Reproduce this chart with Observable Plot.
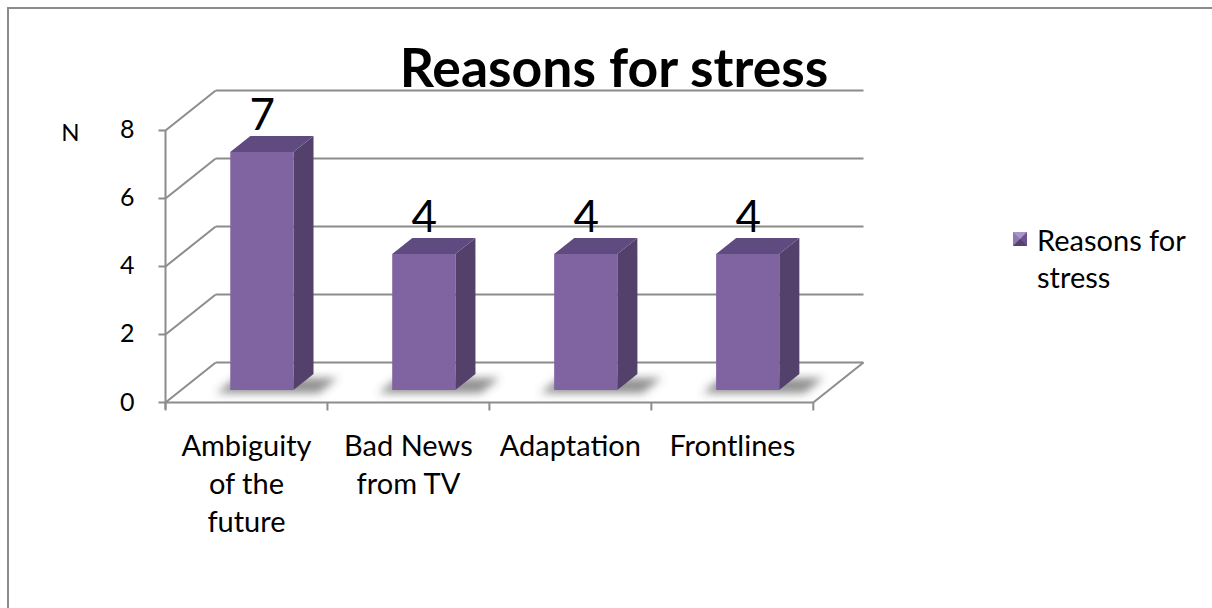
<!DOCTYPE html>
<html><head><meta charset="utf-8">
<script src="https://cdn.jsdelivr.net/npm/d3@7"></script>
<script src="https://cdn.jsdelivr.net/npm/@observablehq/plot@0.6"></script>
<style>
body{margin:0;background:#fff;font-family:Lato,"Open Sans",sans-serif;}
#page{position:relative;width:1212px;height:608px;overflow:hidden;background:#fff}
#frame{position:absolute;left:7px;top:7px;width:1300px;height:700px;border:2.5px solid #8c8c8c;box-sizing:border-box}
#title{position:absolute;left:0;width:1228px;top:36px;text-align:center;font-weight:bold;font-size:53.5px;line-height:60px;color:#000}
#chart{position:absolute;left:0;top:0}
#legend{position:absolute;left:1013px;top:221px;font-size:29px;line-height:37px;color:#000}
#legend .sw{position:absolute;left:0;top:11px;width:0;height:0;border-style:solid;border-width:7.5px;border-color:#a995c6 #6a528e #54416e #9079b2}
#legend .tx{position:absolute;left:24px;top:0;width:190px}
</style></head>
<body>
<div id="page">
  <div id="frame"></div>
  <div id="chart"></div>
  <div id="title"></div>
  <div id="legend"><div class="sw"></div><div class="tx"></div></div>
</div>
<script>
// ---- data ----
const categories = ["Ambiguity of the future", "Bad News from TV", "Adaptation", "Frontlines"];
const tickLabels = ["Ambiguity\nof the\nfuture", "Bad News\nfrom TV", "Adaptation", "Frontlines"];
const values = [7, 4, 4, 4];
const yTicks = [0, 2, 4, 6, 8];
const seriesName = "Reasons for stress";
const titleText = "Reasons for stress";
const yLabel = "N";

// ---- 3D geometry (style) ----
const DX = 0.31, DY = 1.176;   // depth offset in data units
const B0 = 0.31, B1 = 0.70;    // bar left/right within category
const D0 = 0.3, D1 = 0.7;      // bar front/back depth
const grid = "#8c8c8c";

document.getElementById("title").textContent = titleText;
document.querySelector("#legend .tx").textContent = seriesName;

const n = categories.length;
const bars = categories.map((c, i) => ({c, i, v: values[i]}));
const sideFaces = bars.flatMap(b => [D0, D1].map(d => ({c: b.c, x: b.i + B1 + d * DX, y1: d * DY, y2: b.v + d * DY})));
const topFaces = bars.flatMap(b => [D0, D1].map(d => ({c: b.c, y: b.v + d * DY, x1: b.i + B0 + d * DX, x2: b.i + B1 + d * DX})));
const shadows = bars.flatMap(b => [0.22, 0.6].map(d => ({c: b.c, y: d * DY, x1: b.i + B0 - 0.06 + d * DX, x2: b.i + B1 + 0.18 + d * DX})));
const cats = d3.range(n + 1);

const plot = Plot.plot({
  width: 1212, height: 608,
  marginLeft: 165, marginRight: 349, marginTop: 90, marginBottom: 206,
  x: {type: "linear", domain: [0, n + DX], axis: null},
  y: {type: "linear", domain: [0, 8 + DY], axis: null},
  style: {fontFamily: "Lato, 'Open Sans', sans-serif", background: "transparent", color: "#000"},
  marks: [
    // shadows (blurred below)
    Plot.areaX(shadows, {y: "y", x1: "x1", x2: "x2", z: "c", fill: "#4a4a4a", fillOpacity: 0.6}),
    // back wall gridlines
    Plot.link(yTicks, {x1: DX, y1: d => d + DY, x2: n + DX, y2: d => d + DY, stroke: grid, strokeWidth: 2}),
    // side wall gridlines
    Plot.link(yTicks, {x1: 0, y1: d => d, x2: DX, y2: d => d + DY, stroke: grid, strokeWidth: 2}),
    // floor front & right edge
    Plot.link([0], {x1: 0, y1: 0, x2: n, y2: 0, stroke: grid, strokeWidth: 2}),
    Plot.link([0], {x1: n, y1: 0, x2: n + DX, y2: DY, stroke: grid, strokeWidth: 2}),
    // y axis line & ticks
    Plot.link([0], {x1: 0, y1: -0.2, x2: 0, y2: 8, stroke: grid, strokeWidth: 2}),
    Plot.link(yTicks, {x1: -7 / 161.9, y1: d => d, x2: 0, y2: d => d, stroke: grid, strokeWidth: 2}),
    Plot.text(yTicks, {x: 0, y: d => d, text: d => String(d), textAnchor: "end", dx: -31, fontSize: 25, fill: "#000"}),
    Plot.text([yLabel], {x: 0, y: 8, text: d => d, textAnchor: "middle", dx: -95, dy: 3, fontSize: 24, fill: "#000"}),
    // x ticks
    Plot.link(cats, {x1: d => d, y1: 0, x2: d => d, y2: -8 / 34, stroke: grid, strokeWidth: 2}),
    Plot.text(bars, {x: d => d.i + 0.5, y: 0, text: d => tickLabels[d.i], lineAnchor: "top", dy: 27, fontSize: 29, lineHeight: 1.31, fill: "#000"}),
    // bars
    Plot.areaY(sideFaces, {x: "x", y1: "y1", y2: "y2", z: "c", fill: "#53406b"}),
    Plot.areaX(topFaces, {y: "y", x1: "x1", x2: "x2", z: "c", fill: "#604b80"}),
    Plot.rect(bars, {x1: d => d.i + B0 + D0 * DX, x2: d => d.i + B1 + D0 * DX, y1: D0 * DY, y2: d => d.v + D0 * DY, fill: "#8064a2"}),
    // value labels
    Plot.text(bars, {x: d => d.i + (B0 + B1) / 2 + D0 * DX, y: d => d.v + D0 * DY, text: d => String(d.v), lineAnchor: "bottom", dy: -22, fontSize: 44, fill: "#000"})
  ]
});
// soft blur for the floor shadows
const svg = d3.select(plot);
const defs = svg.insert("defs", ":first-child");
defs.append("filter").attr("id", "shadowBlur").attr("x", "-50%").attr("y", "-50%").attr("width", "200%").attr("height", "200%")
  .append("feGaussianBlur").attr("stdDeviation", 4.5);
const firstArea = svg.selectAll('g[aria-label="area"]').nodes()[0];
if (firstArea) firstArea.setAttribute("filter", "url(#shadowBlur)");
document.getElementById("chart").appendChild(plot);
</script>
</body></html>
